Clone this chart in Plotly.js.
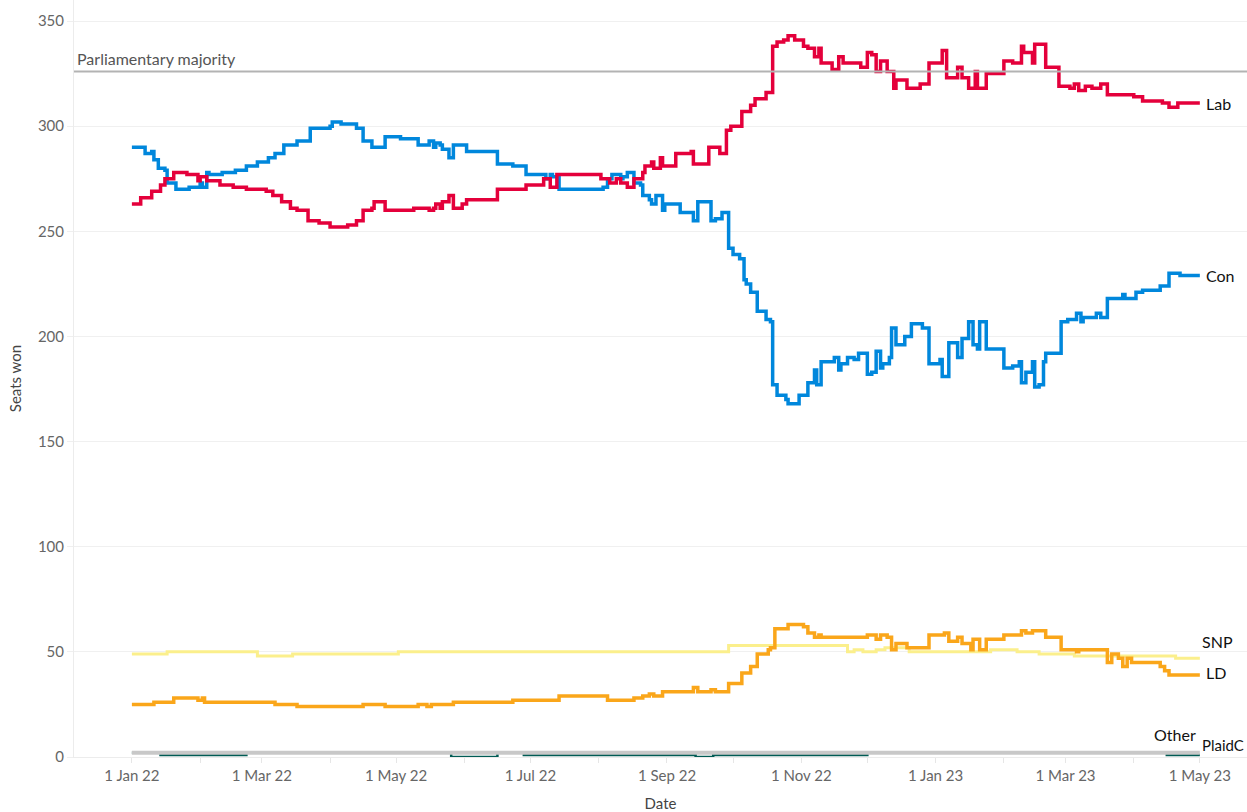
<!DOCTYPE html>
<html>
<head>
<meta charset="utf-8">
<script src="https://cdn.plot.ly/plotly-3.0.1.min.js"></script>
<style>html,body{margin:0;padding:0;background:#fff;}#chart{width:1247px;height:812px;}</style>
</head>
<body>
<div id="chart"></div>
<script>
// Days counted from 1 Jan 2022
const seriesStart = Date.UTC(2022, 0, 1);

const labDays = [0,4,9,13,15,19,25,30,31,34,40,46,52,61,64,68,72,75,80,85,90,98,102,105,109,110,115,128,135,137,138,140,141,144,146,150,152,166,179,187,190,193,213,217,220,222,225,228,232,233,236,237,240,241,247,254,255,262,267,270,272,277,281,283,288,291,293,296,298,301,305,307,310,312,313,318,321,323,331,334,336,338,340,343,346,347,352,358,362,368,370,375,377,380,383,384,388,396,400,404,405,409,410,415,421,426,428,430,433,436,440,443,452,455,459,468,471,475,485];
const labSeats = [263,266,269,272,275,278,277,274,276,274,272,271,270,269,267,264,261,260,255,254,252,253,255,260,261,264,260,261,260,261,263,261,264,267,261,263,265,270,272,275,271,277,275,273,275,273,271,275,278,281,283,280,285,281,287,288,282,290,287,298,300,307,310,313,316,338,340,341,343,341,338,337,333,337,330,327,333,330,328,335,334,326,331,326,318,322,318,320,330,336,323,328,323,318,326,318,325,331,330,338,335,330,339,328,319,318,320,317,319,318,320,315,315,314,312,311,309,311,311];

const conDays = [0,6,9,10,12,15,16,20,26,31,32,34,35,41,47,52,57,62,65,69,75,81,90,91,95,102,105,109,115,122,130,135,137,138,140,141,144,146,152,166,173,179,188,190,191,194,214,216,218,222,223,225,228,231,232,235,236,238,241,242,249,255,257,263,265,268,271,273,276,278,279,281,284,288,290,291,293,297,298,303,307,310,311,313,319,321,322,325,328,330,334,336,338,340,341,344,345,347,351,354,359,362,367,368,371,375,377,380,382,384,385,388,396,400,403,404,406,409,410,412,414,415,422,425,429,431,432,437,438,440,443,450,451,456,459,467,471,476,485];
const conSeats = [290,287,288,284,280,279,273,270,271,273,271,278,277,278,279,281,283,285,287,291,293,299,300,302,301,299,293,290,295,294,291,293,290,292,291,289,285,291,288,282,281,277,275,277,276,270,271,275,277,275,276,278,273,272,267,265,263,267,260,263,259,255,264,255,256,259,242,239,237,227,225,221,212,208,207,177,172,170,168,172,178,184,177,188,190,184,187,190,189,192,182,183,193,185,187,190,204,196,200,206,204,187,189,181,197,190,199,207,196,194,207,194,185,186,188,178,183,188,176,177,188,192,207,208,211,207,209,209,211,209,218,220,218,221,222,224,230,229,229];

const snpDays = [0,16,57,73,121,271,325,328,332,338,342,353,390,402,412,428,474,485];
const snpSeats = [49,50,48,49,50,53,50,51,50,51,52,50,51,50,49,48,47,47];

const ldDays = [0,10,19,30,32,33,65,75,105,115,130,134,136,146,173,194,216,228,232,235,237,241,255,257,263,265,271,277,281,284,289,290,292,298,305,307,310,312,313,334,338,340,343,345,347,352,362,369,371,375,377,381,382,385,388,396,404,406,409,415,422,429,430,443,445,448,450,452,454,467,469,471,485];
const ldSeats = [25,26,28,27,28,26,25,24,25,24,25,24,25,26,27,29,27,28,29,30,29,31,33,31,32,31,35,40,43,49,51,52,61,63,62,59,57,58,57,58,56,58,57,51,54,52,58,59,55,57,54,51,56,51,56,58,60,59,60,57,51,50,51,45,49,47,43,47,45,43,41,39,39];

const otherDays = [0,485];
const otherSeats = [2,2];

const plaidDays = [0,13,52,145,166,178,256,264,334,470,485];
const plaidSeats = [2,1,2,0,2,1,0,1,2,1,1];

const majoritySeats = 326;
const tickDates = ['2022-01-01','2022-03-01','2022-05-01','2022-07-01','2022-09-01','2022-11-01','2023-01-01','2023-03-01','2023-05-01'];
const tickLabels = ['1 Jan 22','1 Mar 22','1 May 22','1 Jul 22','1 Sep 22','1 Nov 22','1 Jan 23','1 Mar 23','1 May 23'];

function toDate(d) {
  return new Date(seriesStart + d * 86400000).toISOString().slice(0, 10);
}

const FONT = 'Lato, "Open Sans", sans-serif';

function line(name, days, seats, color, width) {
  return {
    type: 'scatter', mode: 'lines', name: name,
    x: days.map(toDate), y: seats,
    line: {color: color, width: width, shape: 'hv'},
    hoverinfo: 'x+y+name'
  };
}

const traces = [
  line('PlaidC', plaidDays, plaidSeats, '#005B54', 2.5),
  line('Other', otherDays, otherSeats, '#C8C8C8', 4),
  line('SNP', snpDays, snpSeats, '#FBEF8C', 3),
  line('LD', ldDays, ldSeats, '#FAA61A', 3.5),
  line('Con', conDays, conSeats, '#0087DC', 3.5),
  line('Lab', labDays, labSeats, '#E4003B', 3.5)
];

const labelFont = {family: FONT, size: 16, color: '#111'};
function endLabel(text, x, y, anchor, size) {
  return {text: text, x: x, y: y, xref: 'x', yref: 'y', xanchor: anchor || 'left', yanchor: 'middle', showarrow: false,
    font: {family: FONT, size: size || 16, color: '#111'}};
}

const layout = {
  width: 1247, height: 812,
  margin: {l: 74, r: 0, t: 0, b: 55},
  paper_bgcolor: '#fff', plot_bgcolor: '#fff',
  showlegend: false,
  font: {family: FONT, color: '#555'},
  xaxis: {
    type: 'date',
    range: ['2021-12-05 17:00', '2023-05-22 10:00'],
    tickvals: tickDates, ticktext: tickLabels,
    ticks: 'outside', ticklen: 5, tickcolor: '#e6e6e6',
    minor: {dtick: 'M1', tick0: '2022-01-01', ticks: 'outside', ticklen: 5, tickcolor: '#e6e6e6', showgrid: false},
    showgrid: false, showline: true, linecolor: '#ececec', linewidth: 1,
    zeroline: false,
    tickfont: {family: FONT, size: 15, color: '#666'},
    title: {text: 'Date', font: {family: FONT, size: 15, color: '#444'}, standoff: 16},
    automargin: false
  },
  yaxis: {
    range: [0, 360],
    tickvals: [0, 50, 100, 150, 200, 250, 300, 350],
    ticks: 'outside', ticklen: 6, tickcolor: '#efefef',
    showgrid: true, gridcolor: '#f0f0f0', gridwidth: 1,
    showline: true, linecolor: '#ececec', linewidth: 1,
    zeroline: false,
    tickfont: {family: FONT, size: 15, color: '#666'},
    title: {text: 'Seats won', font: {family: FONT, size: 15, color: '#444'}, standoff: 12},
    automargin: false
  },
  shapes: [{
    type: 'line', xref: 'paper', x0: 0, x1: 1, yref: 'y', y0: majoritySeats, y1: majoritySeats,
    line: {color: '#b3b3b3', width: 2}
  }],
  annotations: [
    {text: 'Parliamentary majority', xref: 'paper', x: 0, xshift: 1, xanchor: 'left', yref: 'y', y: majoritySeats, yanchor: 'bottom', yshift: 1, showarrow: false, font: {family: FONT, size: 16, color: '#555'}},
    endLabel('Lab', '2023-05-03', 311),
    endLabel('Con', '2023-05-03', 229),
    endLabel('SNP', '2023-05-01', 55),
    endLabel('LD', '2023-05-03', 40),
    endLabel('Other', '2023-04-30', 10.5, 'right'),
    endLabel('PlaidC', '2023-05-01', 5.7, 'left', 15)
  ]
};

Plotly.newPlot('chart', traces, layout, {displayModeBar: false, responsive: false});
</script>
</body>
</html>
